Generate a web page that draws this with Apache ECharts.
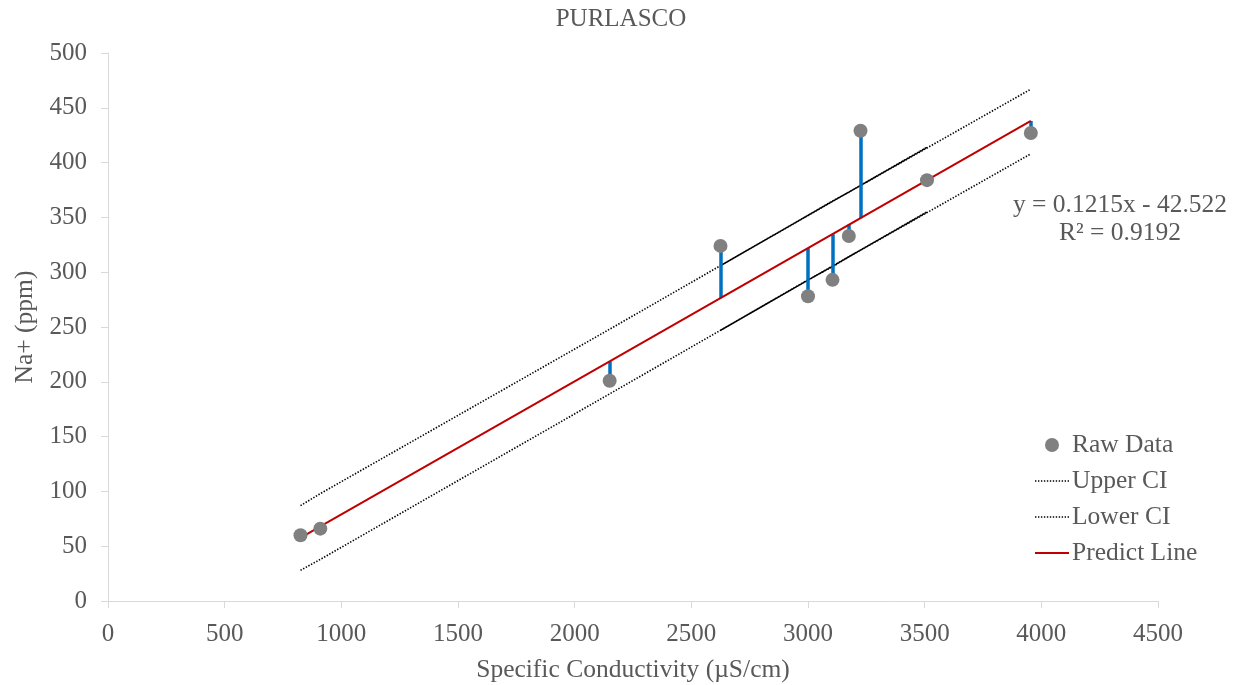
<!DOCTYPE html>
<html>
<head>
<meta charset="utf-8">
<script src="https://cdn.jsdelivr.net/npm/echarts@6/dist/echarts.min.js"></script>
<style>
  html, body { margin: 0; padding: 0; background: #fff; }
  #main { width: 1242px; height: 685px; }
</style>
</head>
<body>
<div id="main"></div>
<script>
// data (kept in the sheet's row order)
const conductivity = [825, 910, 2150, 3510, 2625, 3000, 3105, 3175, 3225, 3955];
const sodium = [60, 66, 201, 384, 324, 278, 293, 333, 429, 427];
const predicted = [57.7, 68.0, 218.7, 384.0, 276.4, 322.0, 334.7, 343.2, 349.3, 438.0];
const upperCI = [87, 98, 248, 414, 306, 352, 365, 373, 379, 467];
const lowerCI = [28, 38, 189, 355, 247, 293, 305, 314, 320, 408];
const xTicks = [0, 500, 1000, 1500, 2000, 2500, 3000, 3500, 4000, 4500];
const yTicks = [0, 50, 100, 150, 200, 250, 300, 350, 400, 450, 500];

const FONT = 'Liberation Serif';
const GREY_TEXT = '#595959';

const pairs = (ys) => conductivity.map((x, i) => [x, ys[i]]);

// residual sticks: from the raw point to the predict line
const residuals = conductivity.map((x, i) => ({
  coords: [[x, sodium[i]], [x, predicted[i]]]
}));

// legend icons (34 x 14 box)
let dots = '';
for (let i = 0; i < 34; i += 3) dots += `M${i},6.3 h1.4 v1.4 h-1.4 Z `;
const DOTTED_ICON = 'path://M0,0 h0.01 v0.01 Z M34,14 h-0.01 v-0.01 Z ' + dots;
const SOLID_ICON = 'path://M0,0 h0.01 v0.01 Z M34,14 h-0.01 v-0.01 Z M0,6 h34 v2 h-34 Z';
const DOT_ICON = 'path://M0,0 h0.01 v0.01 Z M34,14 h-0.01 v-0.01 Z M24,7 a7,7 0 1,0 -14,0 a7,7 0 1,0 14,0 Z';

const chart = echarts.init(document.getElementById('main'), null, {renderer: 'canvas'});

const option = {
  backgroundColor: '#fff',
  animation: false,
  textStyle: {fontFamily: FONT, color: GREY_TEXT},
  title: {
    text: 'PURLASCO',
    left: 'center',
    top: 2,
    textStyle: {fontFamily: FONT, fontSize: 25, fontWeight: 'normal', color: GREY_TEXT}
  },
  grid: {left: 108, right: 84, top: 53, bottom: 84, containLabel: false, outerBoundsMode: 'none'},
  xAxis: {
    type: 'value',
    min: xTicks[0],
    max: xTicks[xTicks.length - 1],
    interval: 500,
    name: 'Specific Conductivity (µS/cm)',
    nameLocation: 'middle',
    nameGap: 56,
    nameTextStyle: {fontFamily: FONT, fontSize: 25.5, color: GREY_TEXT},
    axisLine: {show: true, lineStyle: {color: '#d9d9d9', width: 1}},
    axisTick: {show: true, length: 7, lineStyle: {color: '#d9d9d9'}},
    axisLabel: {fontFamily: FONT, fontSize: 25, color: GREY_TEXT, margin: 21, formatter: (v) => String(v)},
    splitLine: {show: false}
  },
  yAxis: {
    type: 'value',
    min: yTicks[0],
    max: yTicks[yTicks.length - 1],
    interval: 50,
    name: 'Na+ (ppm)',
    nameLocation: 'middle',
    nameGap: 70,
    nameRotate: 90,
    nameTextStyle: {fontFamily: FONT, fontSize: 25.5, color: GREY_TEXT},
    axisLine: {show: true, lineStyle: {color: '#d9d9d9', width: 1}},
    axisTick: {show: true, length: 7, lineStyle: {color: '#d9d9d9'}},
    axisLabel: {fontFamily: FONT, fontSize: 25, color: GREY_TEXT, margin: 21, formatter: (v) => String(v)},
    splitLine: {show: false}
  },
  legend: {
    orient: 'vertical',
    left: 1030,
    top: 427,
    itemWidth: 34,
    itemHeight: 14,
    itemGap: 10,
    data: [
      {name: 'Raw Data', icon: DOT_ICON, itemStyle: {color: '#808080'}},
      {name: 'Upper CI', icon: DOTTED_ICON, itemStyle: {color: '#000'}},
      {name: 'Lower CI', icon: DOTTED_ICON, itemStyle: {color: '#000'}},
      {name: 'Predict Line', icon: SOLID_ICON, itemStyle: {color: '#c00000'}}
    ],
    textStyle: {fontFamily: FONT, fontSize: 25.5, color: GREY_TEXT, lineHeight: 26, padding: [0, 0, 0, -2]}
  },
  graphic: [
    {
      type: 'text',
      x: 1120,
      y: 205,
      style: {
        text: 'y = 0.1215x - 42.522',
        font: '25.5px "Liberation Serif"',
        fill: GREY_TEXT,
        textAlign: 'center',
        textVerticalAlign: 'middle'
      }
    },
    {
      type: 'text',
      x: 1120,
      y: 233,
      style: {
        text: 'R² = 0.9192',
        font: '25.5px "Liberation Serif"',
        fill: GREY_TEXT,
        textAlign: 'center',
        textVerticalAlign: 'middle'
      }
    }
  ],
  series: [
    {
      name: 'Upper CI',
      type: 'line',
      data: pairs(upperCI),
      showSymbol: false,
      symbol: 'none',
      lineStyle: {color: '#000', width: 1.6, type: [1.4, 1.6]},
      itemStyle: {color: '#000'},
      z: 2
    },
    {
      name: 'Lower CI',
      type: 'line',
      data: pairs(lowerCI),
      showSymbol: false,
      symbol: 'none',
      lineStyle: {color: '#000', width: 1.6, type: [1.4, 1.6]},
      itemStyle: {color: '#000'},
      z: 2
    },
    {
      name: 'Residual',
      type: 'lines',
      coordinateSystem: 'cartesian2d',
      data: residuals,
      lineStyle: {color: '#0070c0', width: 3.5, opacity: 1},
      silent: true,
      z: 3
    },
    {
      name: 'Predict Line',
      type: 'line',
      data: pairs(predicted),
      showSymbol: false,
      symbol: 'none',
      lineStyle: {color: '#c00000', width: 2},
      itemStyle: {color: '#c00000'},
      z: 4
    },
    {
      name: 'Raw Data',
      type: 'scatter',
      data: pairs(sodium),
      symbol: 'circle',
      symbolSize: 14,
      itemStyle: {color: '#808080', opacity: 1},
      z: 5
    }
  ]
};

chart.setOption(option);
</script>
</body>
</html>
